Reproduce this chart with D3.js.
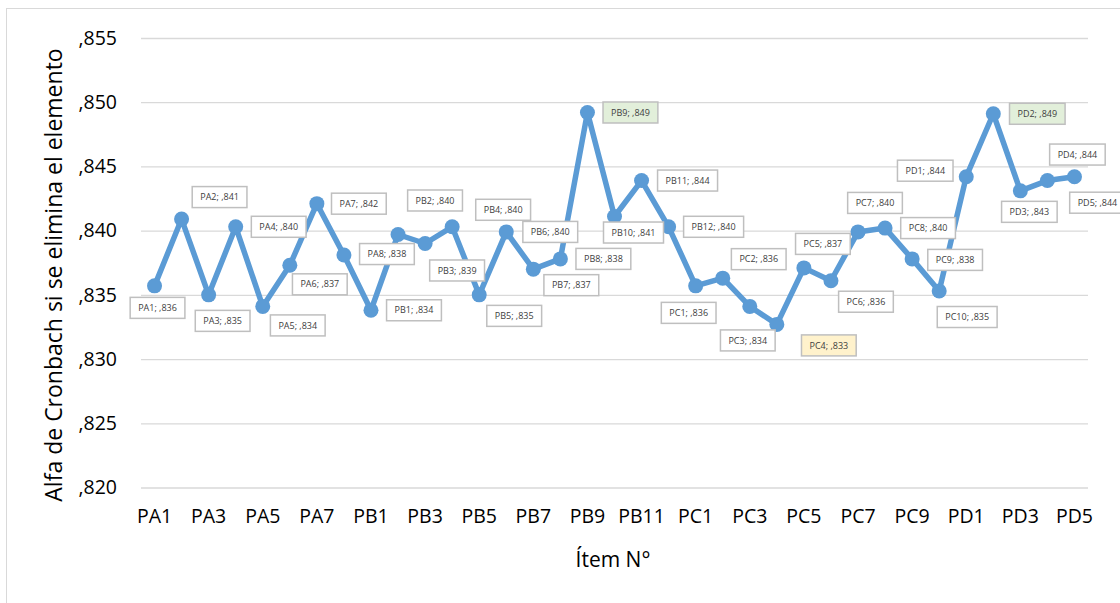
<!DOCTYPE html>
<html>
<head>
<meta charset="utf-8">
<script src="https://cdn.jsdelivr.net/npm/d3@7"></script>
<style>
  body { margin: 0; background: #fff; }
  svg { font-family: Calibri, Carlito, "Open Sans", sans-serif; }
</style>
</head>
<body>
<div id="chart"></div>
<script>
// items, in order
var categories = ["PA1","PA2","PA3","PA4","PA5","PA6","PA7","PA8",
  "PB1","PB2","PB3","PB4","PB5","PB6","PB7","PB8","PB9","PB10","PB11","PB12",
  "PC1","PC2","PC3","PC4","PC5","PC6","PC7","PC8","PC9","PC10",
  "PD1","PD2","PD3","PD4","PD5"];

// alfa de Cronbach if item deleted
var values = [0.8357, 0.8409, 0.8350, 0.8403, 0.8341, 0.8373, 0.8421, 0.8381,
  0.8338, 0.8397, 0.8390, 0.8403, 0.8350, 0.8399, 0.8370, 0.8378, 0.8492, 0.8411, 0.8439, 0.8403,
  0.8357, 0.8363, 0.8341, 0.8327, 0.8371, 0.8361, 0.8399, 0.8402, 0.8378, 0.8353,
  0.8442, 0.8491, 0.8431, 0.8439, 0.8442];

var yTicks = [0.820, 0.825, 0.830, 0.835, 0.840, 0.845, 0.850, 0.855];
var xTicks = ["PA1","PA3","PA5","PA7","PB1","PB3","PB5","PB7","PB9","PB11",
  "PC1","PC3","PC5","PC7","PC9","PD1","PD3","PD5"];

// where each data label box sits, relative to its point (px)
var labelOffsets = [[3,22],[38,-22],[14,26],[43,0],[35,19],[30,19],[42,0],[43,-1],
  [43,0],[37,-34],[32,27],[51,-17],[35,21],[44,0],[38,16],[43,0],[43,0],[19,16],[46,0],[45,0],
  [-7,27],[36,-19],[-2,34],[52,21],[19,-24],[35,21],[17,-29],[43,0],[43,1],[28,26],
  [-41,-6],[44,0],[9,21],[30,-26],[23,26]];

var highlight = {"PB9": "#e2efda", "PD2": "#e2efda", "PC4": "#fff2cc"};

var width = 1120, height = 603;
var plot = {left: 141, right: 1088, top: 38, bottom: 487.5};

var fmt = function(v) { return d3.format(".3f")(v).replace("0.", ","); };

var data = categories.map(function(c, i) { return {item: c, value: values[i], off: labelOffsets[i]}; });

var svg = d3.select("#chart").append("svg")
  .attr("width", width)
  .attr("height", height);

svg.append("rect")
  .attr("x", 6.5).attr("y", 8.5)
  .attr("width", width).attr("height", height)
  .attr("fill", "#fff")
  .attr("stroke", "#d9d9d9");

var xScale = d3.scaleBand()
  .domain(categories)
  .range([plot.left, plot.right]);

var yScale = d3.scaleLinear()
  .domain([0.820, 0.855])
  .range([plot.bottom, plot.top]);

var cx = function(d) { return xScale(d.item) + xScale.bandwidth() / 2; };
var cy = function(d) { return yScale(d.value); };

var yAxis = d3.axisLeft(yScale)
  .tickValues(yTicks)
  .tickFormat(fmt)
  .tickSize(-(plot.right - plot.left))
  .tickPadding(24);

var gy = svg.append("g")
  .attr("class", "y axis")
  .attr("transform", "translate(" + plot.left + ",0)")
  .call(yAxis);
gy.select(".domain").remove();
gy.selectAll("line").attr("stroke", "#d9d9d9").attr("stroke-width", 1.3);
gy.selectAll("text")
  .attr("fill", "#000")
  .style("font-size", "19.5px")
  .style("font-family", "'Open Sans', sans-serif");

var xAxis = d3.axisBottom(xScale)
  .tickValues(xTicks)
  .tickSize(0)
  .tickPadding(22);

var gx = svg.append("g")
  .attr("class", "x axis")
  .attr("transform", "translate(0," + plot.bottom + ")")
  .call(xAxis);
gx.select(".domain").remove();
gx.selectAll("text")
  .attr("fill", "#000")
  .style("font-size", "19.5px")
  .style("font-family", "'Open Sans', sans-serif");

// axis titles
svg.append("text")
  .attr("transform", "translate(62,275) rotate(-90)")
  .attr("text-anchor", "middle")
  .style("font-size", "23px")
  .style("font-family", "'Open Sans', sans-serif")
  .text("Alfa de Cronbach si se elimina el elemento");

svg.append("text")
  .attr("x", 613)
  .attr("y", 567)
  .attr("text-anchor", "middle")
  .style("font-size", "21px")
  .style("font-family", "'Open Sans', sans-serif")
  .text("Ítem N°");

// series
var line = d3.line().x(cx).y(cy);

svg.append("path")
  .datum(data)
  .attr("d", line)
  .attr("fill", "none")
  .attr("stroke", "#5b9bd5")
  .attr("stroke-width", 5.5)
  .attr("stroke-linejoin", "round");

svg.selectAll(".dot")
  .data(data)
  .enter().append("circle")
  .attr("class", "dot")
  .attr("cx", cx)
  .attr("cy", cy)
  .attr("r", 7.5)
  .attr("fill", "#5b9bd5");

// data labels
var labels = svg.selectAll(".lbl")
  .data(data)
  .enter().append("g")
  .attr("class", "lbl")
  .attr("transform", function(d) { return "translate(" + (cx(d) + d.off[0]) + "," + (cy(d) + d.off[1]) + ")"; });

labels.append("rect")
  .attr("fill", function(d) { return highlight[d.item] || "#fff"; })
  .attr("stroke", "#bfbfbf")
  .attr("stroke-width", 1.5);

labels.append("text")
  .attr("text-anchor", "middle")
  .attr("dy", "0.35em")
  .attr("fill", "#404040")
  .style("font-size", "9px")
  .style("font-family", "'Open Sans', sans-serif")
  .text(function(d) { return d.item + "; " + fmt(d.value); });

labels.each(function() {
  var g = d3.select(this);
  var w = g.select("text").node().getComputedTextLength() + 16;
  g.select("rect")
    .attr("x", -w / 2).attr("y", -10.5)
    .attr("width", w).attr("height", 21);
});
</script>
</body>
</html>
